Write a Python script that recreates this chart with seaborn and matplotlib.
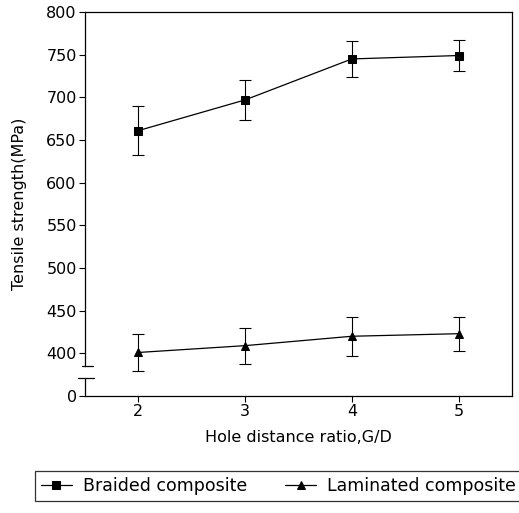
import pandas as pd
import matplotlib
matplotlib.use("Agg")
import matplotlib.pyplot as plt
import seaborn as sns

# Data
gd_ratio = [2, 3, 4, 5]
braided_mean = [661, 697, 745, 749]
braided_err = [29, 23, 21, 18]
laminated_mean = [401, 409, 420, 423]
laminated_err = [22, 21, 23, 20]

# the y axis is broken between 0 and 400; 0 is drawn at the 350 position
ZERO_POS = 350
ytick_pos = [350, 400, 450, 500, 550, 600, 650, 700, 750, 800]
ytick_labels = ["0", "400", "450", "500", "550", "600", "650", "700", "750", "800"]

sns.set_theme(style="ticks")
plt.rcParams['font.family'] = ['DejaVu Sans']
plt.rcParams['axes.linewidth'] = 0.9
plt.rcParams['text.color'] = 'black'
plt.rcParams['axes.labelcolor'] = 'black'

df = pd.concat([
    pd.DataFrame({"G/D": gd_ratio, "strength": braided_mean, "err": braided_err,
                  "series": "Braided composite"}),
    pd.DataFrame({"G/D": gd_ratio, "strength": laminated_mean, "err": laminated_err,
                  "series": "Laminated composite"}),
])

fig = plt.figure(figsize=(5.19, 5.13), dpi=100)
ax = fig.add_axes([0.1638, 0.2281, 0.8227, 0.7485])

sns.lineplot(data=df, x="G/D", y="strength", hue="series", style="series",
             markers={"Braided composite": "s", "Laminated composite": "^"},
             dashes=False, palette=["black", "black"], linewidth=0.9,
             markersize=6, markeredgecolor="black", ax=ax, legend=True)

for name, grp in df.groupby("series"):
    ax.errorbar(grp["G/D"], grp["strength"], yerr=grp["err"], fmt="none",
                ecolor="black", elinewidth=0.8, capsize=4.5, capthick=0.8)

ax.set_xlim(1.5, 5.5)
ax.set_ylim(ZERO_POS, 800)
ax.set_xticks(gd_ratio)
ax.set_yticks(ytick_pos)
ax.set_yticklabels(ytick_labels)
ax.tick_params(axis="both", direction="out", length=4, width=0.8,
               labelsize=11.5, colors="black", pad=2)
ax.set_xlabel("Hole distance ratio,G/D", fontsize=11.5, labelpad=8)
ax.set_ylabel("Tensile strength(MPa)", fontsize=11.5, labelpad=14)

for side in ["top", "right", "bottom", "left"]:
    ax.spines[side].set_visible(True)
    ax.spines[side].set_color("black")

# axis break on the left spine
ax.spines["left"].set_bounds(385, 800)
tr = ax.get_yaxis_transform()
ax.plot([0, 0], [ZERO_POS, 371], color="black", lw=0.9, transform=tr, clip_on=False)
ax.plot([-0.007, 0.019], [385, 385], color="black", lw=0.9, transform=tr, clip_on=False)
ax.plot([-0.016, 0.021], [371, 371], color="black", lw=0.9, transform=tr, clip_on=False)

handles, labels = ax.get_legend_handles_labels()
ax.get_legend().remove()
leg = fig.legend(handles, labels, loc="lower left", bbox_to_anchor=(0.067, 0.023),
                 ncol=2, fontsize=12.5, frameon=True, fancybox=False,
                 handlelength=1.8, handletextpad=0.6, columnspacing=2.2,
                 borderpad=0.35, borderaxespad=0.0)
leg.get_frame().set_edgecolor("black")
leg.get_frame().set_linewidth(0.9)

fig.savefig("out.png", dpi=100)
